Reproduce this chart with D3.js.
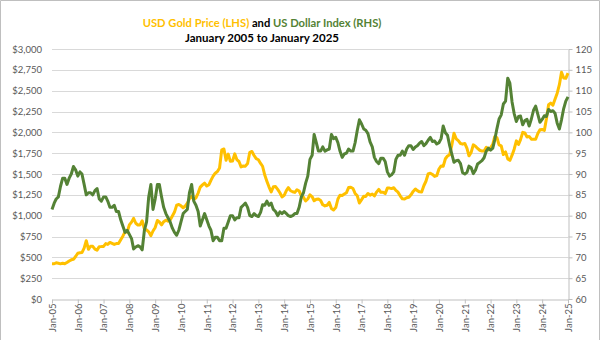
<!DOCTYPE html>
<html><head><meta charset="utf-8">
<script src="https://cdn.jsdelivr.net/npm/d3@7"></script>
<style>
html,body{margin:0;padding:0;background:#fff;}
svg{display:block;font-family:Lato,"Open Sans",sans-serif;}
</style></head>
<body>
<svg id="chart" width="600" height="340"></svg>
<script>
// ---- DATA (monthly, Jan 2005 .. Jan 2025) ----
const startYear = 2005;
const goldPrice = [
424,423,434,429,422,430,424,438,456,470,476,510,
549,555,557,610,700,596,633,632,598,586,628,629,
631,665,655,679,667,655,665,665,712,754,806,803,
889,922,968,909,888,889,939,839,829,806,760,816,
858,943,924,890,928,946,934,949,996,1043,1127,1135,
1118,1095,1113,1149,1205,1232,1193,1215,1271,1343,1370,1391,
1356,1372,1424,1474,1510,1529,1572,1790,1800,1665,1739,1652,
1656,1742,1673,1650,1585,1596,1594,1626,1760,1770,1722,1684,
1671,1627,1593,1487,1414,1343,1286,1347,1349,1316,1275,1225,
1244,1300,1336,1299,1287,1279,1311,1296,1239,1222,1176,1200,
1251,1227,1179,1198,1199,1182,1131,1117,1125,1159,1086,1068,
1097,1200,1246,1243,1260,1276,1337,1341,1326,1267,1238,1152,
1192,1234,1231,1266,1246,1260,1237,1283,1315,1280,1282,1265,
1331,1331,1325,1335,1303,1282,1238,1202,1199,1215,1221,1250,
1291,1320,1300,1286,1284,1359,1413,1500,1510,1495,1471,1480,
1560,1597,1592,1683,1716,1732,1846,1990,1922,1900,1866,1858,
1867,1808,1718,1760,1850,1834,1807,1785,1775,1777,1821,1790,
1817,1856,1948,1937,1849,1837,1733,1765,1681,1664,1726,1798,
1898,1855,1913,2000,1992,1943,1951,1918,1916,1916,1985,2030,
2034,2023,2159,2331,2351,2326,2398,2470,2572,2720,2651,2648,
2710
];
const dollarIndex = [
81.5,83.0,84.0,84.5,87.0,89.0,89.0,87.5,89.0,90.0,91.8,91.0,
89.5,90.5,90.0,87.5,85.0,85.5,85.5,85.0,86.0,86.5,84.0,83.5,
84.5,84.5,83.5,82.0,82.0,82.5,81.0,81.0,79.0,77.5,76.0,76.5,
75.5,74.5,72.0,72.5,72.8,72.5,71.8,76.5,78.5,84.5,87.5,81.5,
84.0,87.5,87.5,84.5,82.0,80.5,79.5,78.5,77.0,76.0,75.3,76.5,
78.5,80.5,81.0,81.5,85.5,87.5,83.5,82.5,81.0,77.5,79.0,80.5,
79.0,77.5,76.5,74.0,74.8,74.8,74.0,74.0,77.0,77.0,78.5,80.0,
80.0,79.0,79.5,79.5,82.0,82.5,83.0,82.0,80.0,79.8,80.5,80.0,
79.8,80.8,82.6,82.5,83.5,82.5,83.0,81.5,81.0,80.0,80.9,80.5,
81.0,80.5,80.0,79.8,80.0,80.5,80.5,82.0,84.5,85.5,87.8,89.5,
93.5,94.5,99.5,97.5,95.5,95.5,96.5,95.5,95.8,96.0,99.5,98.5,
98.8,97.5,95.5,94.0,94.8,95.0,96.0,95.5,95.5,97.5,100.5,103.0,
102.0,100.8,100.5,99.7,97.7,96.5,94.0,93.0,92.5,93.8,93.8,93.0,
90.5,89.5,89.8,90.5,93.5,94.5,94.5,95.5,94.5,96.0,96.8,96.8,
95.9,96.5,96.8,97.4,97.8,96.8,97.3,98.1,98.8,97.8,97.9,97.2,
97.5,98.5,101.5,99.9,99.3,96.8,94.8,92.8,93.2,93.3,92.5,90.3,
90.0,90.4,91.9,91.5,90.1,90.9,92.4,92.8,93.2,93.9,95.5,96.2,
95.7,96.2,98.2,100.9,103.2,104.2,106.8,107.5,113.0,111.8,107.3,104.5,
102.6,103.8,103.9,101.8,102.8,103.1,101.5,103.2,105.3,106.3,104.3,102.4,
103.1,104.0,103.8,105.5,105.0,105.2,104.6,102.2,100.8,103.0,105.7,107.5,
108.5
];
const xTickLabels = ["Jan-05","Jan-06","Jan-07","Jan-08","Jan-09","Jan-10","Jan-11","Jan-12","Jan-13","Jan-14","Jan-15","Jan-16","Jan-17","Jan-18","Jan-19","Jan-20","Jan-21","Jan-22","Jan-23","Jan-24","Jan-25"];
const leftTicks = [0,250,500,750,1000,1250,1500,1750,2000,2250,2500,2750,3000];
const rightTicks = [60,65,70,75,80,85,90,95,100,105,110,115,120];

const GOLD = "#FFC000", GREEN = "#548235", AXIS_TXT = "#595959", GRID = "#D9D9D9";

const svg = d3.select("#chart");
const L = 52, R = 568, T = 49, B = 299;

const dates = goldPrice.map((_, i) => d3.timeMonth.offset(new Date(startYear, 0, 1), i));
const tickDates = xTickLabels.map((_, i) => new Date(startYear + i, 0, 1));

const x = d3.scaleTime().domain([new Date(startYear,0,1), new Date(startYear+20,0,1)]).range([L, R]);
const yL = d3.scaleLinear().domain([0, 3000]).range([B, T]);
const yR = d3.scaleLinear().domain([60, 120]).range([B, T]);

// border
svg.append("path").attr("d", "M0.5,345V0.5H599.5V345").attr("fill","none").attr("stroke","#BFBFBF").attr("stroke-width",1);

// gridlines
svg.append("g").selectAll("line").data(leftTicks.filter(d => d > 0)).join("line")
  .attr("x1", L).attr("x2", R)
  .attr("y1", d => Math.round(yL(d)) + 0.5).attr("y2", d => Math.round(yL(d)) + 0.5)
  .attr("stroke", GRID).attr("stroke-width", 1);

// left axis labels
const gL = svg.append("g").attr("transform", `translate(${L - 10},0)`)
  .call(d3.axisLeft(yL).tickValues(leftTicks).tickFormat(d3.format("$,")).tickSize(0).tickPadding(0));
gL.select(".domain").remove();
gL.selectAll("text").attr("fill", AXIS_TXT).style("font-size", "9.5px").style("font-family", "Lato");

// right axis
const gR = svg.append("g").attr("transform", `translate(${R + 0.5},0)`)
  .call(d3.axisRight(yR).tickValues(rightTicks).tickSize(4).tickSizeOuter(0).tickPadding(3));
gR.select(".domain").attr("stroke", "#BFBFBF");
gR.selectAll(".tick line").attr("stroke", "#BFBFBF");
gR.selectAll("text").attr("fill", AXIS_TXT).style("font-size", "9.5px").style("font-family", "Lato");

// bottom axis
const gB = svg.append("g").attr("transform", `translate(0,${B + 0.5})`)
  .call(d3.axisBottom(x).tickValues(tickDates).tickFormat((d, i) => xTickLabels[i]).tickSize(4).tickSizeOuter(0));
gB.select(".domain").attr("stroke", "#BFBFBF");
gB.selectAll(".tick line").attr("stroke", "#BFBFBF");
gB.selectAll("text")
  .attr("fill", AXIS_TXT).style("font-size", "9.5px").style("font-family", "Lato")
  .attr("transform", "rotate(-90)").attr("text-anchor", "end")
  .attr("x", -4).attr("y", 0).attr("dy", "0.35em");

// lines
const lineGold = d3.line().x((d, i) => x(dates[i])).y(d => yL(d));
const lineDxy = d3.line().x((d, i) => x(dates[i])).y(d => yR(d));
svg.append("path").datum(goldPrice).attr("d", lineGold).attr("fill", "none")
  .attr("stroke", GOLD).attr("stroke-width", 3).attr("stroke-linejoin", "round");
svg.append("path").datum(dollarIndex).attr("d", lineDxy).attr("fill", "none")
  .attr("stroke", GREEN).attr("stroke-width", 3).attr("stroke-linejoin", "round");

// titles
function fitText(sel, target) {
  let fs = 13;
  sel.style("font-size", fs + "px");
  const w = sel.node().getComputedTextLength();
  fs = fs * target / w;
  sel.style("font-size", fs + "px");
}
const t1 = svg.append("text").attr("x", 262).attr("y", 27).attr("text-anchor", "middle")
  .style("font-family", "Lato").style("font-weight", "700");
t1.append("tspan").attr("fill", GOLD).text("USD Gold Price (LHS)");
t1.append("tspan").attr("fill", "#000").text(" and ");
t1.append("tspan").attr("fill", GREEN).text("US Dollar Index (RHS)");
fitText(t1, 239);
const t2 = svg.append("text").attr("x", 262).attr("y", 42).attr("text-anchor", "middle")
  .style("font-family", "Lato").style("font-weight", "700").attr("fill", "#000")
  .text("January 2005 to January 2025");
fitText(t2, 154);
</script>
</body></html>
